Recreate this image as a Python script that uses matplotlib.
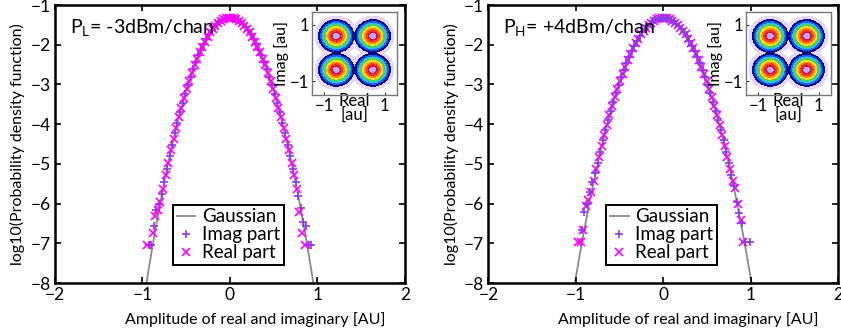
import numpy as np
import matplotlib
matplotlib.use("Agg")
import matplotlib.pyplot as plt
from matplotlib.lines import Line2D

plt.rcParams['font.family'] = ['Lato', 'DejaVu Sans']
plt.rcParams['mathtext.fontset'] = 'custom'
plt.rcParams['mathtext.rm'] = 'Lato'
plt.rcParams['font.size'] = 11.5

nan = np.nan

# -----------------------------
# Data
# -----------------------------
# histogram bin centres (imag / real parts are binned half a step apart)
X_IMAG = [-0.99, -0.96, -0.93, -0.90, -0.87, -0.84, -0.81, -0.78, -0.75, -0.72,
          -0.69, -0.66, -0.63, -0.60, -0.57, -0.54, -0.51, -0.48, -0.45, -0.42,
          -0.39, -0.36, -0.33, -0.30, -0.27, -0.24, -0.21, -0.18, -0.15, -0.12,
          -0.09, -0.06, -0.03, 0.00, 0.03, 0.06, 0.09, 0.12, 0.15, 0.18,
          0.21, 0.24, 0.27, 0.30, 0.33, 0.36, 0.39, 0.42, 0.45, 0.48,
          0.51, 0.54, 0.57, 0.60, 0.63, 0.66, 0.69, 0.72, 0.75, 0.78,
          0.81, 0.84, 0.87, 0.90, 0.93, 0.96, 0.99]
X_REAL = [-0.975, -0.945, -0.915, -0.885, -0.855, -0.825, -0.795, -0.765, -0.735, -0.705,
          -0.675, -0.645, -0.615, -0.585, -0.555, -0.525, -0.495, -0.465, -0.435, -0.405,
          -0.375, -0.345, -0.315, -0.285, -0.255, -0.225, -0.195, -0.165, -0.135, -0.105,
          -0.075, -0.045, -0.015, 0.015, 0.045, 0.075, 0.105, 0.135, 0.165, 0.195,
          0.225, 0.255, 0.285, 0.315, 0.345, 0.375, 0.405, 0.435, 0.465, 0.495,
          0.525, 0.555, 0.585, 0.615, 0.645, 0.675, 0.705, 0.735, 0.765, 0.795,
          0.825, 0.855, 0.885, 0.915, 0.945, 0.975]

# left panel, P_L = -3 dBm/chan
LOW_IMAG = [nan, nan, -7.05, -7.05, -6.57, -6.15, -6.00, -5.75,
            -5.45, -5.12, -4.81, -4.52, -4.23, -3.96, -3.70, -3.46, -3.23, -3.01,
            -2.81, -2.61, -2.44, -2.27, -2.12, -1.98, -1.86, -1.74, -1.64, -1.56,
            -1.49, -1.43, -1.38, -1.35, -1.33,
            -1.32,
            -1.33, -1.35, -1.38, -1.43, -1.49, -1.56, -1.64, -1.74, -1.86, -1.98,
            -2.12, -2.27, -2.44, -2.61, -2.81, -3.01, -3.23, -3.46, -3.70, -3.96,
            -4.23, -4.52, -4.81, -5.12, -5.45,
            -5.80, -6.10, -6.45, -6.57, -7.05, -7.05, nan, nan]
LOW_REAL = [nan, -7.05, nan, -6.75, -6.30, -6.15, -5.96, -5.62,
            -5.29, -4.97, -4.66, -4.37, -4.10, -3.83, -3.58, -3.34, -3.12, -2.91,
            -2.71, -2.52, -2.35, -2.19, -2.05, -1.92, -1.80, -1.69, -1.60, -1.52,
            -1.45, -1.40, -1.36, -1.33, -1.32,
            -1.32, -1.33, -1.36, -1.40, -1.45, -1.52, -1.60, -1.69, -1.80, -1.92,
            -2.05, -2.19, -2.35, -2.52, -2.71, -2.91, -3.12, -3.34, -3.58, -3.83,
            -4.10, -4.37, -4.66, -4.97, -5.29,
            -5.62, -6.20, -6.75, -7.05, nan, nan, nan, nan]

# right panel, P_H = +4 dBm/chan
HIGH_IMAG = [nan, nan, -6.67, -6.20, -6.00, -5.70, -5.45, -5.22,
             -4.98, -4.69, -4.41, -4.15, -3.90, -3.66, -3.43, -3.22, -3.01, -2.82,
             -2.64, -2.47, -2.31, -2.16, -2.03, -1.91, -1.79, -1.69, -1.61, -1.53,
             -1.47, -1.41, -1.37, -1.34, -1.33,
             -1.32,
             -1.33, -1.34, -1.37, -1.41, -1.47, -1.53, -1.61, -1.69, -1.79, -1.91,
             -2.03, -2.16, -2.31, -2.47, -2.64, -2.82, -3.01, -3.22, -3.43, -3.66,
             -3.90, -4.15, -4.41, -4.69, -4.98,
             -5.27, -5.55, -5.95, -6.24, -6.50, -6.97, nan, -6.97]
HIGH_REAL = [-6.97, -6.97, -6.67, -6.05, -5.90, -5.70, -5.43, -5.12,
             -4.83, -4.55, -4.28, -4.02, -3.78, -3.54, -3.32, -3.11, -2.91, -2.73,
             -2.55, -2.39, -2.23, -2.09, -1.96, -1.85, -1.74, -1.65, -1.57, -1.50,
             -1.44, -1.39, -1.36, -1.33, -1.32,
             -1.32, -1.33, -1.36, -1.39, -1.44, -1.50, -1.57, -1.65, -1.74, -1.85,
             -1.96, -2.09, -2.23, -2.39, -2.55, -2.73, -2.91, -3.11, -3.32, -3.54,
             -3.78, -4.02, -4.28, -4.55, -4.83,
             -5.12, -5.43, -5.60, -6.00, -6.41, -6.97, nan, nan]

# Gaussian reference curves
X_GAUSS = [-1.05, -1.00, -0.95, -0.90, -0.85, -0.80, -0.75, -0.70, -0.65, -0.60, -0.55,
           -0.50, -0.45, -0.40, -0.35, -0.30, -0.25, -0.20, -0.15, -0.10, -0.05, 0.00,
           0.05, 0.10, 0.15, 0.20, 0.25, 0.30, 0.35, 0.40, 0.45, 0.50,
           0.55, 0.60, 0.65, 0.70, 0.75, 0.80, 0.85, 0.90, 0.95, 1.00, 1.05]
LOW_GAUSS = [-9.41, -8.66, -7.94, -7.27, -6.62, -6.02, -5.45, -4.92, -4.42, -3.96, -3.54,
             -3.16, -2.81, -2.49, -2.22, -1.98, -1.78, -1.61, -1.49, -1.39, -1.34, -1.32,
             -1.34, -1.39, -1.49, -1.61, -1.78, -1.98, -2.22, -2.49, -2.81, -3.16,
             -3.54, -3.96, -4.42, -4.92, -5.45, -6.02, -6.62, -7.27, -7.94, -8.66, -9.41]
HIGH_GAUSS = [-8.54, -7.87, -7.23, -6.63, -6.05, -5.51, -5.00, -4.53, -4.09, -3.68, -3.30,
              -2.96, -2.65, -2.37, -2.12, -1.91, -1.73, -1.58, -1.47, -1.39, -1.34, -1.32,
              -1.34, -1.39, -1.47, -1.58, -1.73, -1.91, -2.12, -2.37, -2.65, -2.96,
              -3.30, -3.68, -4.09, -4.53, -5.00, -5.51, -6.05, -6.63, -7.23, -7.87, -8.54]

# inset constellation (QPSK): symbol levels and ring radii of the density plot
CONST_LEVELS = [-0.6, 0.6]
RING_R = [0.0, 0.13, 0.18, 0.25, 0.31, 0.37, 0.43, 0.49, 0.55, 0.62, 0.70]
RING_COLORS = ['#c4a4f2', '#c8103c', '#f03a22', '#ff8a1c', '#f2de22',
               '#62cc3c', '#22cde0', '#1f5ff0', '#0d0d8a', '#e4d6f6']

PANEL_TEXT = [r'P$_{\mathrm{L}}$= -3dBm/chan', r'P$_{\mathrm{H}}$= +4dBm/chan']

IMAG_COLOR = '#8b3be8'
REAL_COLOR = '#ff00ff'
GAUSS_COLOR = '#8a8a8a'


def draw_inset(ax):
    gx = np.linspace(-1.4, 1.4, 400)
    gy = np.linspace(-1.5, 1.45, 400)
    GX, GY = np.meshgrid(gx, gy)
    r = np.full(GX.shape, np.inf)
    for cx in CONST_LEVELS:
        for cy in CONST_LEVELS:
            r = np.minimum(r, np.hypot(GX - cx, GY - cy))
    ax.contourf(GX, GY, r, levels=RING_R, colors=RING_COLORS)
    ax.set_xlim(-1.4, 1.4)
    ax.set_ylim(-1.5, 1.45)
    ax.set_xticks([-1, 1])
    ax.set_yticks([-1, 1])
    ax.tick_params(direction='in', length=2, width=0.6, pad=2, labelsize=12)
    for sp in ax.spines.values():
        sp.set_color('#777777')
        sp.set_linewidth(1.0)
    ax.set_xlabel('Real\n[au]', fontsize=12, linespacing=0.8)
    ax.xaxis.set_label_coords(0.5, 0.02)
    ax.set_ylabel('Imag [au]', fontsize=11.5, labelpad=1)


def draw_panel(ax, x_gauss, y_gauss, y_imag, y_real, text, imag_on_top):
    ax.plot(x_gauss, y_gauss, color=GAUSS_COLOR, lw=1.3, zorder=1)
    kw = dict(ls='none', ms=5.5, mew=1.2)
    if imag_on_top:
        ax.plot(X_REAL, y_real, marker='x', color=REAL_COLOR, zorder=2, **kw)
        ax.plot(X_IMAG, y_imag, marker='+', color=IMAG_COLOR, zorder=3, **kw)
    else:
        ax.plot(X_IMAG, y_imag, marker='+', color=IMAG_COLOR, zorder=2, **kw)
        ax.plot(X_REAL, y_real, marker='x', color=REAL_COLOR, zorder=3, **kw)

    ax.set_xlim(-2, 2)
    ax.set_ylim(-8, -1)
    ax.set_xticks([-2, -1, 0, 1, 2])
    ax.set_yticks(range(-8, 0))
    ax.tick_params(direction='in', length=4, width=1.2, top=True, right=True,
                   labelsize=12.5, pad=3)
    for sp in ax.spines.values():
        sp.set_linewidth(1.8)

    ax.set_xlabel('Amplitude of real and imaginary [AU]', fontsize=11.5)
    ax.xaxis.set_label_coords(0.571, -0.105)
    ax.set_ylabel('log10(Probability density function)', fontsize=11.5)
    ax.yaxis.set_label_coords(-0.085, 0.5)

    ax.text(0.043, 0.917, text, transform=ax.transAxes, va='center', ha='left',
            fontsize=14)

    handles = [Line2D([], [], color=GAUSS_COLOR, lw=1.3),
               Line2D([], [], ls='none', marker='+', color=IMAG_COLOR, ms=5.5, mew=1.2),
               Line2D([], [], ls='none', marker='x', color=REAL_COLOR, ms=5.5, mew=1.2)]
    leg = ax.legend(handles, ['Gaussian', 'Imag part', 'Real part'],
                    loc='lower left', bbox_to_anchor=(0.337, 0.065),
                    fancybox=False, edgecolor='black', framealpha=1,
                    fontsize=13.5, handlelength=1.0, handletextpad=0.35,
                    borderpad=0.2, labelspacing=0.05, borderaxespad=0)
    leg.get_frame().set_linewidth(1.4)


fig = plt.figure(figsize=(8.41, 3.35), dpi=100)

ax_l = fig.add_axes([0.0654, 0.155, 0.416, 0.830])
ax_r = fig.add_axes([0.5806, 0.155, 0.416, 0.830])

draw_panel(ax_l, X_GAUSS, LOW_GAUSS, LOW_IMAG, LOW_REAL, PANEL_TEXT[0], False)
draw_panel(ax_r, X_GAUSS, HIGH_GAUSS, HIGH_IMAG, HIGH_REAL, PANEL_TEXT[1], True)

ins_l = fig.add_axes([0.371, 0.716, 0.101, 0.248])
ins_r = fig.add_axes([0.887, 0.716, 0.101, 0.248])
draw_inset(ins_l)
draw_inset(ins_r)

fig.savefig('out.png', dpi=100)
